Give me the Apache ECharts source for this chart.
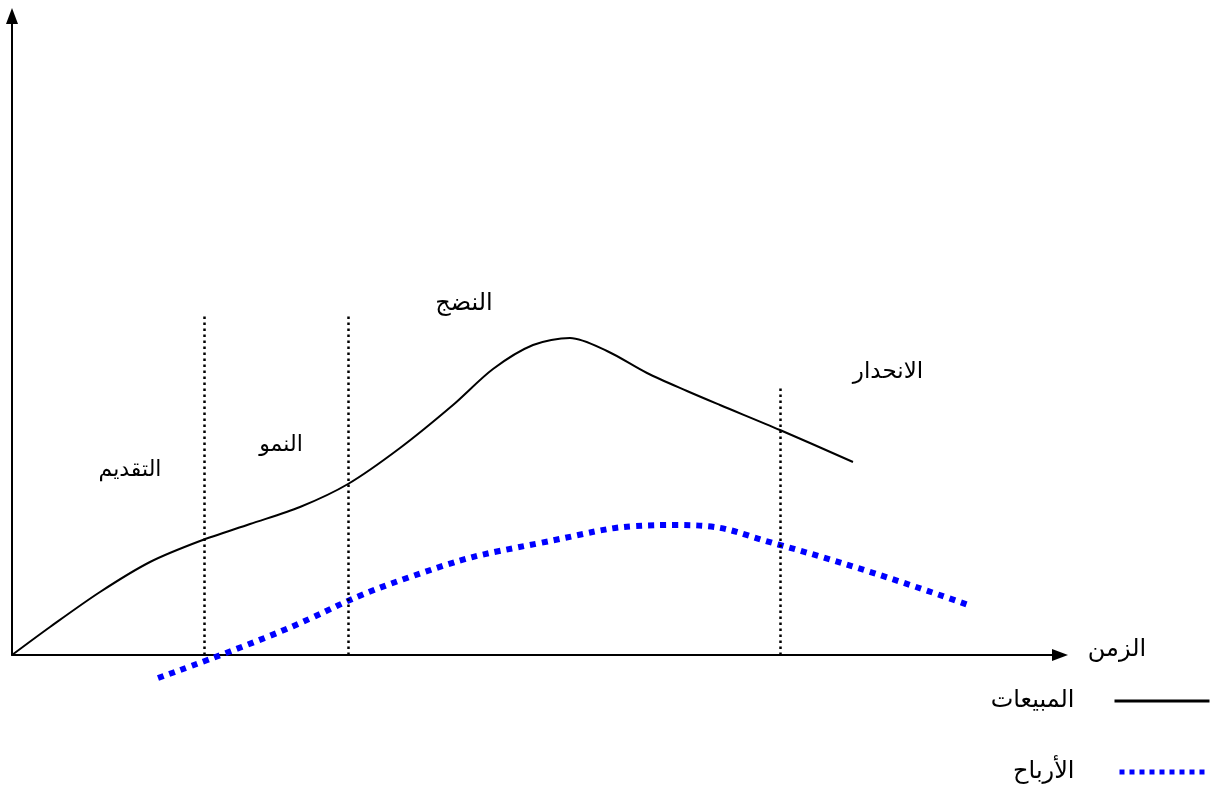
<!DOCTYPE html>
<html>
<head>
<meta charset="utf-8">
<script src="https://cdn.jsdelivr.net/npm/echarts@6/dist/echarts.min.js"></script>
<style>
html,body{margin:0;padding:0;background:#fff;}
#chart{width:1214px;height:801px;}
</style>
</head>
<body>
<div id="chart"></div>
<script>
// Time axis positions and values
const salesTime   = [0, 38, 88, 138, 188, 238, 288, 336, 388, 441, 481, 521, 558, 595, 635, 675, 708, 768, 841];
const salesValues = [0, 28, 63, 93, 114, 131, 148, 171, 207, 250, 286, 310, 317, 304, 282, 264, 250, 225, 193];
const profitTime   = [146, 255, 395, 528, 665, 768, 956];
const profitValues = [-23, 18, 77, 112, 130, 110, 50];
const phaseBoundaryTime = [192, 336, 768];
const phaseBoundaryTop  = [340, 340, 268];
const phaseNames = ['التقديم', 'النمو', 'النضج', 'الانحدار'];
const seriesNames = ['المبيعات', 'الأرباح'];
const axisName = 'الزمن';

const toPairs = (xs, ys) => xs.map((x, i) => [x, ys[i]]);
const font = "'DejaVu Sans', sans-serif";

const chart = echarts.init(document.getElementById('chart'), null, {renderer: 'canvas'});
const textEl = (txt, x, y, size) => ({
  type: 'text', x: x, y: y,
  style: {text: txt, fontSize: size, fontFamily: font, fill: '#000', align: 'center', verticalAlign: 'middle'}
});
chart.setOption({
  backgroundColor: '#ffffff',
  animation: false,
  grid: {left: 12, right: 1214 - 1060, top: 16, bottom: 801 - 655, containLabel: false},
  xAxis: {
    type: 'value', min: 0, max: 1048,
    axisLine: {show: true, lineStyle: {color: '#000', width: 2}, symbol: ['none', 'triangle'], symbolSize: [12, 16]},
    axisTick: {show: false}, axisLabel: {show: false}, splitLine: {show: false}
  },
  yAxis: {
    type: 'value', min: 0, max: 639,
    axisLine: {show: true, lineStyle: {color: '#000', width: 2}, symbol: ['none', 'triangle'], symbolSize: [12, 16]},
    axisTick: {show: false}, axisLabel: {show: false}, splitLine: {show: false}
  },
  legend: {
    orient: 'vertical', right: 2, top: 689, align: 'right', padding: 0,
    itemWidth: 95, itemHeight: 14, itemGap: 47,
    itemStyle: {opacity: 0},
    textStyle: {fontSize: 24, lineHeight: 14, color: '#000', fontFamily: font, padding: [10, 35, 0, 0]},
    data: [
      {name: seriesNames[0], lineStyle: {color: '#000', width: 3, type: 'solid'}},
      {name: seriesNames[1], lineStyle: {color: '#0000ff', width: 5, type: [5, 5], dashOffset: -5}}
    ]
  },
  series: [
    {
      name: seriesNames[0], type: 'line', data: toPairs(salesTime, salesValues),
      smooth: 0.3, showSymbol: false, symbol: 'none', clip: false,
      lineStyle: {color: '#000', width: 2},
      itemStyle: {color: '#000'},
      markLine: {
        silent: true, symbol: 'none', label: {show: false},
        lineStyle: {color: '#000', width: 2.5, type: [2.5, 3.5]},
        data: phaseBoundaryTime.map((t, i) => [{coord: [t, 0]}, {coord: [t, phaseBoundaryTop[i]]}])
      }
    },
    {
      name: seriesNames[1], type: 'line', data: toPairs(profitTime, profitValues),
      smooth: 0.5, showSymbol: false, symbol: 'none', clip: false,
      lineStyle: {color: '#0000ff', width: 6, type: [6, 6]},
      itemStyle: {color: '#0000ff'}
    }
  ],
  graphic: [
    textEl(phaseNames[0], 130, 470, 22),
    textEl(phaseNames[1], 281, 445, 22),
    textEl(phaseNames[2], 464, 304, 24),
    textEl(phaseNames[3], 888, 372, 23),
    textEl(axisName, 1117, 650, 24)
  ]
});
</script>
</body>
</html>
